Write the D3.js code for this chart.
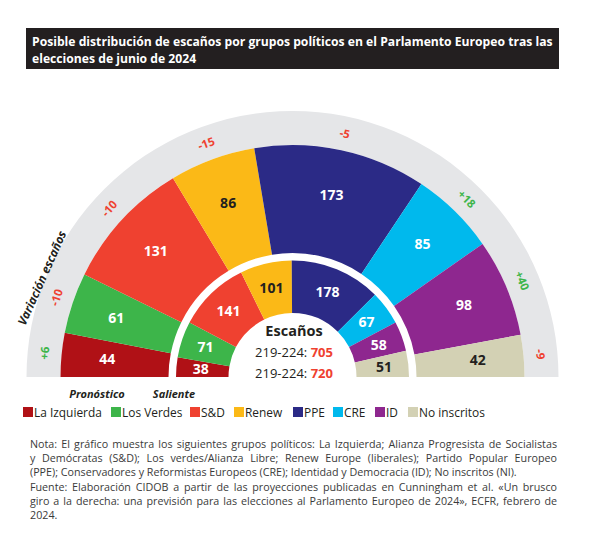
<!DOCTYPE html>
<html><head><meta charset="utf-8">
<script src="https://cdn.jsdelivr.net/npm/d3@7"></script>
<style>html,body{margin:0;padding:0;background:#fff;}svg{display:block;}</style>
</head><body>
<svg id="c" width="600" height="543"></svg>
<script>
const groups = ["La Izquierda","Los Verdes","S&D","Renew","PPE","CRE","ID","No inscritos"];
const pronostico = [44,61,131,86,173,85,98,42];
const saliente = [38,71,141,101,178,67,58,51];
const variacion = ["+6","-10","-10","-15","-5","+18","+40","-9"];
const colors = ["#b01116","#3db54a","#ef4130","#fbb917","#2b2a86","#00b9ed","#8e278f","#d3d1b4"];
const darkText = ["Renew","No inscritos"];
const totalSaliente = 705, totalPronostico = 720;
const periodLabel = "219-224: ";
const titleLines = ["Posible distribución de escaños por grupos políticos en el Parlamento Europeo tras las","elecciones de junio de 2024"];
const noteLines = [
 "Nota: El gráfico muestra los siguientes grupos políticos: La Izquierda; Alianza Progresista de Socialistas",
 "y Demócratas (S&D); Los verdes/Alianza Libre; Renew Europe (liberales); Partido Popular Europeo",
 "(PPE); Conservadores y Reformistas Europeos (CRE); Identidad y Democracia (ID); No inscritos (NI).",
 "Fuente: Elaboración CIDOB a partir de las proyecciones publicadas en Cunningham et al. «Un brusco",
 "giro a la derecha: una previsión para las elecciones al Parlamento Europeo de 2024», ECFR, febrero de",
 "2024."];
const justify = [true,true,false,true,true,false];

const svg = d3.select("#c");
const FONT = "'Open Sans', 'Noto Sans', sans-serif";
const cx = 292.5, cy = 377;

// Title bar
svg.append("rect").attr("x",26).attr("y",28).attr("width",533).attr("height",41).attr("fill","#231f20");
const tg = svg.append("g").attr("font-family",FONT).attr("font-weight",700).attr("fill","#fff");
const t1 = tg.append("text").attr("x",32).attr("y",46).attr("font-size",13).text(titleLines[0]);
let w = t1.node().getComputedTextLength();
const tfs = 13*521/w;
t1.attr("font-size",tfs);
tg.append("text").attr("x",32).attr("y",63).attr("font-size",tfs).text(titleLines[1]);

const g = svg.append("g").attr("transform",`translate(${cx},${cy})`);
const pie = d3.pie().sort(null).startAngle(-Math.PI/2).endAngle(Math.PI/2);
const outerData = pie(pronostico);
const innerData = pie(saliente);

// gray ring
g.append("path").attr("d", d3.arc()({innerRadius:232, outerRadius:266, startAngle:-Math.PI/2, endAngle:Math.PI/2})).attr("fill","#e5e6e8");

const arcOuter = d3.arc().innerRadius(124).outerRadius(232);
const arcInner = d3.arc().innerRadius(64).outerRadius(116.5);
g.selectAll("path.o").data(outerData).join("path").attr("class","o")
  .attr("d",arcOuter).attr("fill",(d,i)=>colors[i]);
g.selectAll("path.i").data(innerData).join("path").attr("class","i")
  .attr("d",arcInner).attr("fill",(d,i)=>colors[i]);

const labOuter = d3.arc().innerRadius(186).outerRadius(186);
const labInner = d3.arc().innerRadius(92).outerRadius(92);
const labVar = d3.arc().innerRadius(249).outerRadius(249);

g.selectAll("text.vo").data(outerData).join("text").attr("class","vo")
  .attr("transform",d=>`translate(${labOuter.centroid(d)})`)
  .attr("text-anchor","middle").attr("dy","0.36em")
  .attr("font-family",FONT).attr("font-weight",700).attr("font-size",14)
  .attr("fill",(d,i)=>darkText.includes(groups[i])?"#231f20":"#fff")
  .text(d=>d.data);
g.selectAll("text.vi").data(innerData).join("text").attr("class","vi")
  .attr("transform",d=>`translate(${labInner.centroid(d)})`)
  .attr("text-anchor","middle").attr("dy","0.36em")
  .attr("font-family",FONT).attr("font-weight",700).attr("font-size",14)
  .attr("fill",(d,i)=>darkText.includes(groups[i])?"#231f20":"#fff")
  .text(d=>d.data);
g.selectAll("text.var").data(outerData).join("text").attr("class","var")
  .attr("transform",(d,i)=>{const a=(d.startAngle+d.endAngle)/2*180/Math.PI; return `translate(${labVar.centroid(d)}) rotate(${a})`;})
  .attr("text-anchor","middle").attr("dy","0.36em")
  .attr("font-family",FONT).attr("font-weight",700).attr("font-size",11.5)
  .attr("fill",(d,i)=>variacion[i].startsWith("+")?"#3db54a":"#ef4130")
  .text((d,i)=>variacion[i]);

// Variación escaños label
svg.append("text").attr("transform","translate(42,278) rotate(-66)")
  .attr("text-anchor","middle").attr("dy","0.36em")
  .attr("font-family",FONT).attr("font-weight",700).attr("font-style","italic").attr("font-size",12)
  .attr("fill","#231f20").text("Variación escaños");

// center text
const ct = svg.append("g").attr("font-family",FONT).attr("fill","#231f20").attr("text-anchor","middle");
ct.append("text").attr("x",294).attr("y",336).attr("font-weight",700).attr("font-size",14.5).text("Escaños");
[[totalSaliente,357],[totalPronostico,378]].forEach(([v,y])=>{
  const t = ct.append("text").attr("x",294).attr("y",y).attr("font-size",13);
  t.append("tspan").text(periodLabel);
  t.append("tspan").attr("font-weight",700).attr("fill","#ef4130").text(v);
});

// ring labels
const rl = svg.append("g").attr("font-family",FONT).attr("font-weight",700).attr("font-style","italic").attr("font-size",11).attr("fill","#231f20").attr("text-anchor","middle");
rl.append("text").attr("x",97).attr("y",398).text("Pronóstico");
rl.append("text").attr("x",174).attr("y",398).text("Saliente");

// legend
const legX = [23,111,190,234,293,333,375,408];
const lg = svg.append("g").attr("font-family",FONT).attr("font-size",13).attr("fill","#231f20");
const lprobe = lg.append("text").text(groups[0]);
const lfs = 13*68/lprobe.node().getComputedTextLength();
lprobe.remove();
lg.attr("font-size",lfs);
groups.forEach((gname,i)=>{
  lg.append("rect").attr("x",legX[i]).attr("y",407).attr("width",10).attr("height",10).attr("fill",colors[i]);
  lg.append("text").attr("x",legX[i]+11).attr("y",417).text(gname);
});

// footnote
const ng = svg.append("g").attr("font-family",FONT).attr("font-size",11).attr("fill","#3a3a3a");
const probe = ng.append("text").attr("x",30).attr("y",0).text(noteLines[2]);
const nfs = 11*487/probe.node().getComputedTextLength();
probe.remove();
ng.attr("font-size",nfs);
noteLines.forEach((line,i)=>{
  const t = ng.append("text").attr("x",30).attr("y",448+i*14.2).text(line);
  if(justify[i]){
    const nat = t.node().getComputedTextLength();
    const spaces = (line.match(/ /g)||[]).length;
    t.attr("word-spacing",(527-nat)/spaces);
  }
});
</script>
</body></html>
